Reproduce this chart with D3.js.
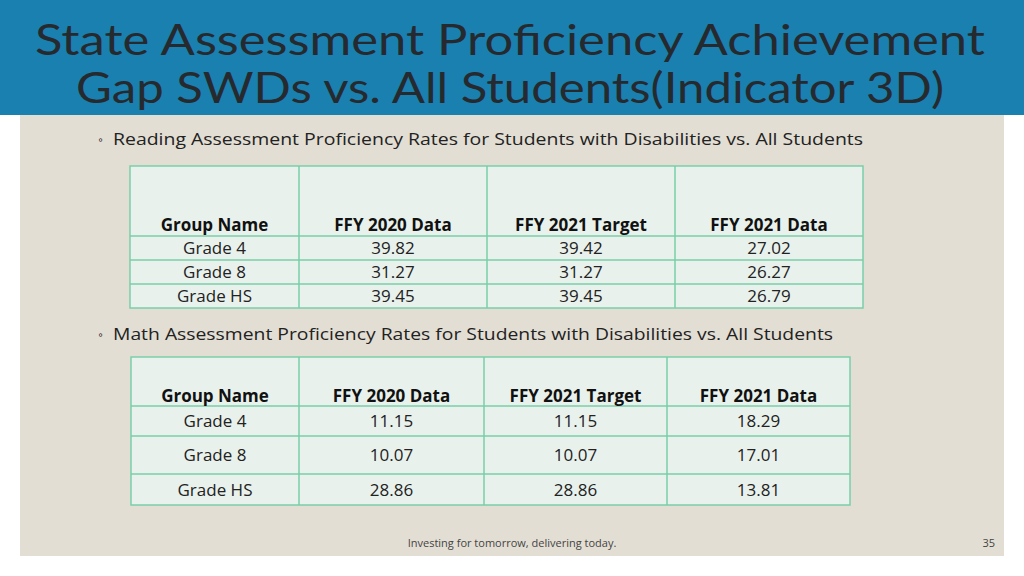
<!DOCTYPE html>
<html><head><meta charset="utf-8">
<script src="https://cdn.jsdelivr.net/npm/d3@7"></script>
<style>body{margin:0;background:#fff}svg{display:block}</style>
</head><body><div id="chart"></div>
<script>
const title = ["State Assessment Proficiency Achievement", "Gap SWDs vs. All Students(Indicator 3D)"];
const columns = ["Group Name", "FFY 2020 Data", "FFY 2021 Target", "FFY 2021 Data"];
const groups = ["Grade 4", "Grade 8", "Grade HS"];
const readingFFY2020 = ["39.82", "31.27", "39.45"];
const readingTarget2021 = ["39.42", "31.27", "39.45"];
const readingFFY2021 = ["27.02", "26.27", "26.79"];
const mathFFY2020 = ["11.15", "10.07", "28.86"];
const mathTarget2021 = ["11.15", "10.07", "28.86"];
const mathFFY2021 = ["18.29", "17.01", "13.81"];

const W = 1024, H = 576;
const font = "'Open Sans', Lato, sans-serif";
const svg = d3.select("#chart").append("svg").attr("width", W).attr("height", H);

svg.append("rect").attr("width", W).attr("height", 115).attr("fill", "#1a80b0");
svg.append("rect").attr("x", 20).attr("y", 115).attr("width", 984).attr("height", 441).attr("fill", "#e3ded3");

// title widths taken from the slide
const titleLen = [950, 868];
svg.selectAll(".title").data(title).join("text")
  .attr("x", 510).attr("y", (d, i) => 55 + i * 48)
  .attr("text-anchor", "middle").attr("font-family", "Lato, sans-serif").attr("font-size", 43)
  .attr("textLength", (d, i) => titleLen[i]).attr("lengthAdjust", "spacingAndGlyphs")
  .attr("fill", "#262a2e").text(d => d);

function bullet(y, txt, len) {
  svg.append("text").attr("x", 98).attr("y", y - 1).attr("font-family", font).attr("font-size", 12).attr("fill", "#333").text("◦");
  svg.append("text").attr("x", 113).attr("y", y).attr("font-family", font).attr("font-size", 17)
    .attr("textLength", len).attr("lengthAdjust", "spacingAndGlyphs").attr("fill", "#222").text(txt);
}
bullet(145, "Reading Assessment Proficiency Rates for Students with Disabilities vs. All Students", 750);
bullet(340, "Math Assessment Proficiency Rates for Students with Disabilities vs. All Students", 720);

function table(colEdges, rowEdges, headerBase, rows) {
  const g = svg.append("g");
  const x0 = colEdges[0], x1 = colEdges[colEdges.length - 1];
  const y0 = rowEdges[0], y1 = rowEdges[rowEdges.length - 1];
  g.append("rect").attr("x", x0).attr("y", y0).attr("width", x1 - x0).attr("height", y1 - y0)
    .attr("fill", "#e9f1ec").attr("stroke", "#79cfa9").attr("stroke-width", 1.5);
  g.selectAll(".v").data(colEdges.slice(1, -1)).join("line")
    .attr("x1", d => d).attr("x2", d => d).attr("y1", y0).attr("y2", y1)
    .attr("stroke", "#79cfa9").attr("stroke-width", 1.5);
  g.selectAll(".h").data(rowEdges.slice(1, -1)).join("line")
    .attr("x1", x0).attr("x2", x1).attr("y1", d => d).attr("y2", d => d)
    .attr("stroke", "#79cfa9").attr("stroke-width", 1.5);
  const cx = i => (colEdges[i] + colEdges[i + 1]) / 2;
  g.selectAll(".hd").data(columns).join("text")
    .attr("x", (d, i) => cx(i)).attr("y", headerBase).attr("text-anchor", "middle")
    .attr("font-family", font).attr("font-size", 17).attr("font-weight", "bold").attr("fill", "#111").text(d => d);
  rows.forEach((r, ri) => {
    const cy = (rowEdges[ri + 1] + rowEdges[ri + 2]) / 2;
    g.selectAll(".r" + ri).data(r).join("text")
      .attr("x", (d, i) => cx(i)).attr("y", cy).attr("dy", "0.36em").attr("text-anchor", "middle")
      .attr("font-family", font).attr("font-size", 17).attr("fill", "#222").text(d => d);
  });
}

const readRows = groups.map((gname, i) => [gname, readingFFY2020[i], readingTarget2021[i], readingFFY2021[i]]);
const mathRows = groups.map((gname, i) => [gname, mathFFY2020[i], mathTarget2021[i], mathFFY2021[i]]);

table([130, 299, 487, 675, 863], [166, 236, 260, 284, 308], 231, readRows);
table([131, 299, 484, 667, 850], [357, 406, 436, 474, 505], 402, mathRows);

svg.append("text").attr("x", 512).attr("y", 547).attr("text-anchor", "middle")
  .attr("font-family", font).attr("font-size", 11).attr("fill", "#444").text("Investing for tomorrow, delivering today.");
svg.append("text").attr("x", 995).attr("y", 547).attr("text-anchor", "end")
  .attr("font-family", font).attr("font-size", 11).attr("fill", "#444").text("35");
</script></body></html>
